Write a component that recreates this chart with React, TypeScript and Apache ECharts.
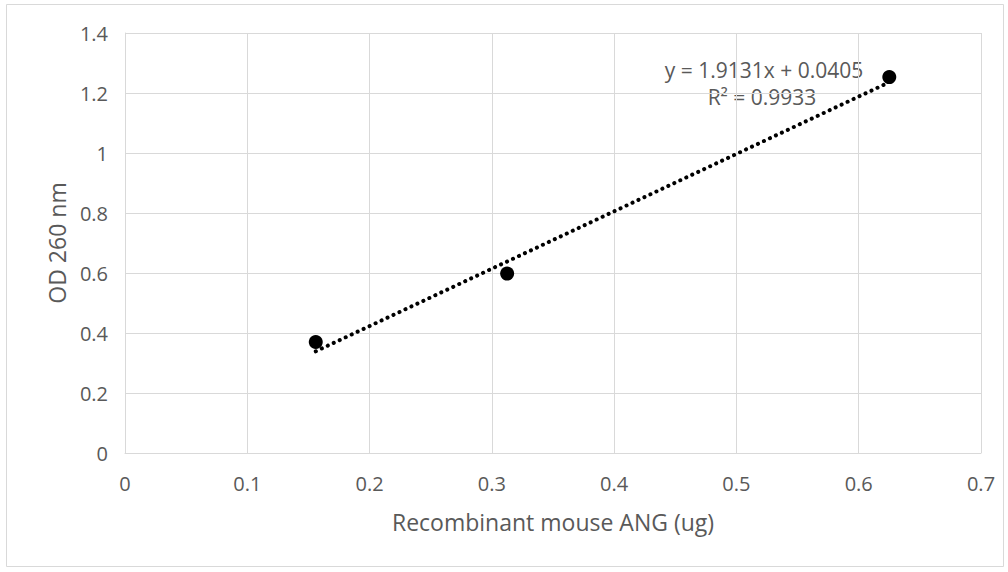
import React, { useEffect, useRef } from "react";
import * as echarts from "echarts";

const pointX = [0.156, 0.3125, 0.625];
const pointY = [0.37, 0.598, 1.253];
const trendX = [0.156, 0.625];
const trendY = [0.339, 1.236];
const equationLines = ["y = 1.9131x + 0.0405", "R² = 0.9933"];
const xTicks = { min: 0, max: 0.7, interval: 0.1 };
const yTicks = { min: 0, max: 1.4, interval: 0.2 };

export default function App() {
  const ref = useRef<HTMLDivElement>(null);
  useEffect(() => {
    const chart = echarts.init(ref.current!, null, { renderer: "svg" });
    const font = "'Open Sans', 'Liberation Sans', sans-serif";
    const gray = "#595959";
    chart.setOption({
      animation: false,
      backgroundColor: "#fff",
      grid: { left: 125, top: 33, right: 27, bottom: 119 },
      xAxis: {
        type: "value",
        ...xTicks,
        name: "Recombinant mouse ANG (ug)",
        nameLocation: "middle",
        nameGap: 57,
        nameTextStyle: { color: gray, fontSize: 23, fontFamily: font },
        axisLine: { show: true, lineStyle: { color: "#d9d9d9" } },
        axisTick: { show: false },
        axisLabel: { color: gray, fontSize: 20, fontFamily: font, margin: 20 },
        splitLine: { show: true, lineStyle: { color: "#d9d9d9" } },
      },
      yAxis: {
        type: "value",
        ...yTicks,
        name: "OD 260 nm",
        nameLocation: "middle",
        nameGap: 56,
        nameTextStyle: { color: gray, fontSize: 23, fontFamily: font },
        axisLine: { show: true, lineStyle: { color: "#d9d9d9" } },
        axisTick: { show: false },
        axisLabel: {
          color: gray,
          fontSize: 20,
          fontFamily: font,
          margin: 17,
          formatter: (v: number) => String(Math.round(v * 10) / 10),
        },
        splitLine: { show: true, lineStyle: { color: "#d9d9d9" } },
      },
      series: [
        {
          type: "line",
          data: trendX.map((x, i) => [x, trendY[i]]),
          showSymbol: false,
          symbol: "none",
          lineStyle: { color: "#000", width: 4, type: [0.1, 6.5], cap: "round", opacity: 1 },
          z: 2,
        },
        {
          type: "scatter",
          data: pointX.map((x, i) => [x, pointY[i]]),
          symbol: "circle",
          symbolSize: 14,
          itemStyle: { color: "#000", opacity: 1 },
          z: 3,
        },
      ],
      graphic: [
        {
          type: "rect",
          shape: { x: 6.5, y: 4.5, width: 997, height: 562 },
          style: { fill: "none", stroke: "#d9d9d9", lineWidth: 1 },
          z: -1,
        },
        {
          type: "text",
          x: 764,
          y: 70,
          style: {
            text: equationLines[0],
            fill: gray,
            font: `21px ${font}`,
            textAlign: "center",
            textVerticalAlign: "middle",
          },
        },
        {
          type: "text",
          x: 762,
          y: 97,
          style: {
            text: equationLines[1],
            fill: gray,
            font: `21px ${font}`,
            textAlign: "center",
            textVerticalAlign: "middle",
          },
        },
      ],
    });
    return () => chart.dispose();
  }, []);
  return (
    <div
      ref={ref}
      style={{ position: "fixed", left: 0, top: 0, width: 1008, height: 572 }}
    />
  );
}
